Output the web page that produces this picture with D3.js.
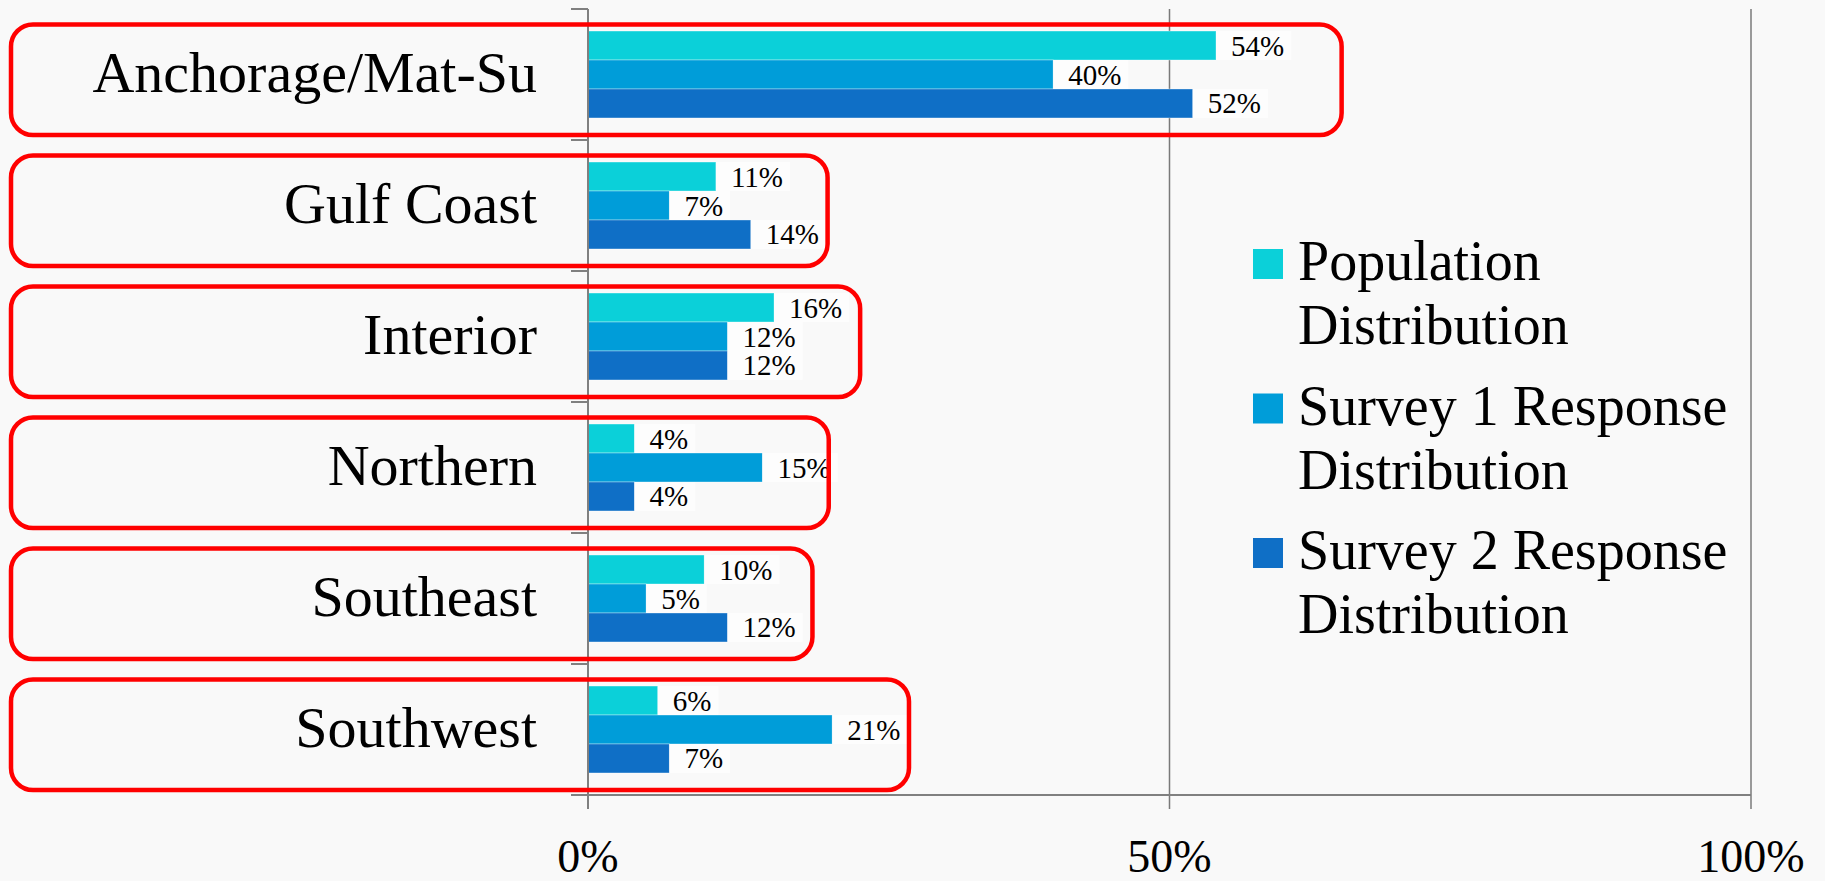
<!DOCTYPE html>
<html>
<head>
    <meta charset="utf-8">
    <title>Regional distribution</title>
    <script src="https://d3js.org/d3.v7.min.js"></script>
    <style>
        html, body { margin: 0; padding: 0; background: #f9f9f9; }
        svg { display: block; }
        text { font-family: Constantia, "Liberation Serif", "Times New Roman", serif; fill: #000; }
    </style>
</head>
<body>
    <svg></svg>
    <script>
        // chart data
        const categories = ["Anchorage/Mat-Su", "Gulf Coast", "Interior", "Northern", "Southeast", "Southwest"];
        const seriesNames = ["Population Distribution", "Survey 1 Response Distribution", "Survey 2 Response Distribution"];
        const legendLines = [["Population", "Distribution"], ["Survey 1 Response", "Distribution"], ["Survey 2 Response", "Distribution"]];
        const population = [54, 11, 16, 4, 10, 6];
        const survey1 = [40, 7, 12, 15, 5, 21];
        const survey2 = [52, 14, 12, 4, 12, 7];
        const xTicks = [0, 50, 100];
        // where each red highlight box ends, in axis percent
        const highlightEnd = [64.8, 20.6, 23.4, 20.7, 19.3, 27.6];

        const colors = ["#0BD0D9", "#009DD9", "#0F6FC6"];
        const series = [population, survey1, survey2];

        const width = 1825;
        const height = 881;

        const svg = d3.select("svg")
            .attr("width", width)
            .attr("height", height);

        svg.append("rect")
            .attr("width", width)
            .attr("height", height)
            .attr("fill", "#f9f9f9");

        // scales
        const x = d3.scaleLinear()
            .domain([0, 100])
            .range([588, 1751]);
        const y0 = d3.scaleBand()
            .domain(categories)
            .range([9, 795]);
        const y1 = d3.scaleBand()
            .domain(d3.range(series.length))
            .range([0, y0.bandwidth()])
            .paddingInner(0)
            .paddingOuter(0.76);

        const plotTop = y0.range()[0];
        const plotBottom = y0.range()[1];

        // vertical gridlines + x ticks
        svg.append("g")
            .selectAll("line")
            .data(xTicks.filter(t => t > 0))
            .join("line")
            .attr("x1", d => x(d))
            .attr("x2", d => x(d))
            .attr("y1", plotTop)
            .attr("y2", plotBottom + 14)
            .attr("stroke", "#7a7a7a")
            .attr("stroke-width", 1.5);

        // bars
        const groups = svg.append("g")
            .selectAll("g")
            .data(categories)
            .join("g")
            .attr("transform", d => "translate(0," + y0(d) + ")");

        groups.selectAll("rect")
            .data((d, i) => series.map((s, k) => ({ k: k, v: s[i] })))
            .join("rect")
            .attr("x", x(0))
            .attr("y", d => y1(d.k))
            .attr("width", d => x(d.v) - x(0))
            .attr("height", y1.bandwidth())
            .attr("fill", d => colors[d.k])
            .attr("stroke", "rgba(255,255,255,0.35)")
            .attr("stroke-width", 1);

        // data labels with a faint white backing
        groups.each(function(c, i) {
            const g = d3.select(this);
            series.forEach(function(s, k) {
                const v = s[i];
                const lbl = g.append("g");
                const bg = lbl.append("rect")
                    .attr("fill", "#fdfdfd");
                const t = lbl.append("text")
                    .attr("x", x(v) + 15)
                    .attr("y", y1(k) + y1.bandwidth() / 2 + 10)
                    .attr("font-size", 29)
                    .text(v + "%");
                const w = t.node().getComputedTextLength();
                bg.attr("x", x(v))
                    .attr("y", y1(k))
                    .attr("width", w + 22)
                    .attr("height", y1.bandwidth());
            });
        });

        // axes
        const axisColor = "#808080";
        svg.append("line")
            .attr("x1", x(0)).attr("x2", x(0))
            .attr("y1", plotTop).attr("y2", plotBottom + 14)
            .attr("stroke", axisColor).attr("stroke-width", 2);
        svg.append("line")
            .attr("x1", x(0) - 17).attr("x2", x(100))
            .attr("y1", plotBottom).attr("y2", plotBottom)
            .attr("stroke", axisColor).attr("stroke-width", 2);

        // category boundary ticks
        const bounds = categories.map(c => y0(c)).concat([plotBottom]);
        svg.append("g")
            .selectAll("line")
            .data(bounds)
            .join("line")
            .attr("x1", x(0) - 17)
            .attr("x2", x(0))
            .attr("y1", d => d)
            .attr("y2", d => d)
            .attr("stroke", axisColor)
            .attr("stroke-width", 2);

        // x tick labels
        svg.append("g")
            .selectAll("text")
            .data(xTicks)
            .join("text")
            .attr("x", d => x(d))
            .attr("y", 872)
            .attr("text-anchor", "middle")
            .attr("font-size", 46)
            .text(d => d + "%");

        // category labels
        svg.append("g")
            .selectAll("text")
            .data(categories)
            .join("text")
            .attr("x", 537)
            .attr("y", d => y0(d) + y0.bandwidth() / 2 + 17)
            .attr("text-anchor", "end")
            .attr("font-size", 58)
            .text(d => d);

        // red highlight boxes
        svg.append("g")
            .selectAll("rect")
            .data(categories)
            .join("rect")
            .attr("x", 11)
            .attr("y", d => y0(d) + 15.5)
            .attr("width", (d, i) => x(highlightEnd[i]) - 11)
            .attr("height", y0.bandwidth() - 20.5)
            .attr("rx", 22)
            .attr("ry", 22)
            .attr("fill", "none")
            .attr("stroke", "#ff0000")
            .attr("stroke-width", 4.5);

        // legend
        const legend = svg.append("g")
            .selectAll("g")
            .data(seriesNames)
            .join("g")
            .attr("transform", (d, i) => "translate(1253," + (249 + i * 144.5) + ")");

        legend.append("rect")
            .attr("width", 30)
            .attr("height", 30)
            .attr("fill", (d, i) => colors[i]);

        legend.each(function(d, i) {
            const t = d3.select(this).append("text")
                .attr("font-size", 56);
            legendLines[i].forEach(function(line, j) {
                t.append("tspan")
                    .attr("x", 45)
                    .attr("y", 31 + j * 64)
                    .text(line);
            });
        });
    </script>
</body>
</html>
